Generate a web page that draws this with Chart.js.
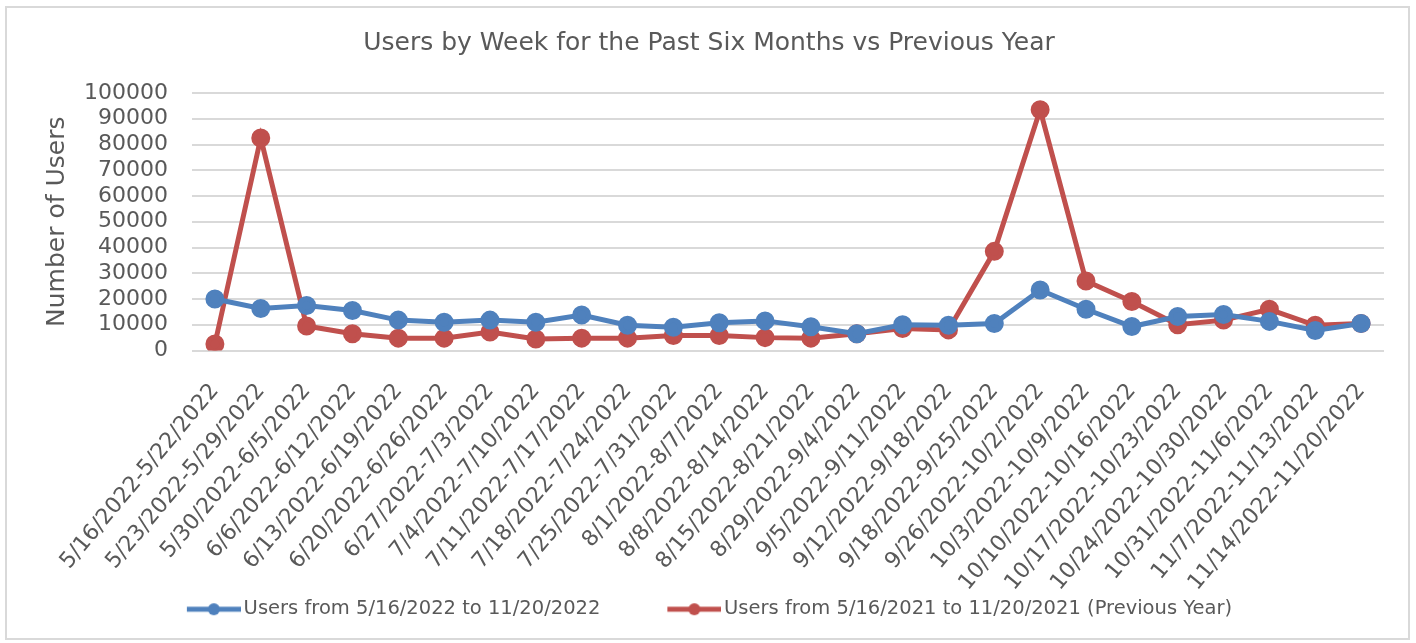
<!DOCTYPE html>
<html>
<head>
<meta charset="utf-8">
<script src="https://cdn.jsdelivr.net/npm/chart.js@4.4.0/dist/chart.umd.min.js"></script>
<style>
  body { margin: 0; background: #fff; }
  #wrap { position: relative; width: 1416px; height: 643px; }
  #frame {
    position: absolute; left: 5px; top: 6px; width: 1401px; height: 630px;
    border: 2px solid #d9d9d9;
  }
  #chart { position: absolute; left: 0; top: 0; }
</style>
</head>
<body>
<div id="wrap">
  <div id="frame"></div>
  <canvas id="chart" width="1416" height="643"></canvas>
</div>
<script>
// week ranges on the x axis
const weeks = [
  "5/16/2022-5/22/2022", "5/23/2022-5/29/2022", "5/30/2022-6/5/2022",
  "6/6/2022-6/12/2022", "6/13/2022-6/19/2022", "6/20/2022-6/26/2022",
  "6/27/2022-7/3/2022", "7/4/2022-7/10/2022", "7/11/2022-7/17/2022",
  "7/18/2022-7/24/2022", "7/25/2022-7/31/2022", "8/1/2022-8/7/2022",
  "8/8/2022-8/14/2022", "8/15/2022-8/21/2022", "8/29/2022-9/4/2022",
  "9/5/2022-9/11/2022", "9/12/2022-9/18/2022", "9/18/2022-9/25/2022",
  "9/26/2022-10/2/2022", "10/3/2022-10/9/2022", "10/10/2022-10/16/2022",
  "10/17/2022-10/23/2022", "10/24/2022-10/30/2022", "10/31/2022-11/6/2022",
  "11/7/2022-11/13/2022", "11/14/2022-11/20/2022"
];

// users this year (2022)
const users2022 = [
  20000, 16300, 17500, 15500, 11800, 11000, 11800, 11000, 13800, 9800,
  9000, 10800, 11500, 9200, 6500, 10000, 9800, 10500, 23500, 16000,
  9300, 13200, 14000, 11300, 7800, 10500
];

// users previous year (2021)
const users2021 = [
  2500, 82500, 9500, 6500, 4800, 4800, 7200, 4500, 4800, 4800,
  5800, 5800, 5000, 4800, 6500, 8500, 8000, 38500, 93500, 27000,
  19000, 10000, 11800, 16000, 9800, 10500
];

const seriesNames = [
  "Users from 5/16/2022 to 11/20/2022",
  "Users from 5/16/2021 to 11/20/2021 (Previous Year)"
];

const BLUE = "#4f81bd";
const RED = "#c0504d";
const GREY = "#595959";
const FONT = "'DejaVu Sans', sans-serif";

// legend marker: a short thick line with a dot in the middle, like excel.
// the canvas is wider than the legend box so the line runs close to the text
function legendMarker(color) {
  const c = document.createElement("canvas");
  c.width = 62;
  c.height = 16;
  const g = c.getContext("2d");
  g.strokeStyle = color;
  g.lineWidth = 5;
  g.beginPath();
  g.moveTo(8, 8);
  g.lineTo(62, 8);
  g.stroke();
  g.fillStyle = color;
  g.beginPath();
  g.arc(35, 8, 6, 0, Math.PI * 2);
  g.fill();
  return c;
}

const markers = [legendMarker(BLUE), legendMarker(RED)];
// extra room after the first legend entry (excel leaves a wide gap)
const legendGap = ["          ", ""];

new Chart(document.getElementById("chart"), {
  type: "line",
  data: {
    labels: weeks,
    datasets: [
      {
        label: seriesNames[0],
        data: users2022,
        borderColor: BLUE,
        backgroundColor: BLUE,
        borderWidth: 5,
        pointRadius: 7,
        pointHoverRadius: 7,
        tension: 0,
      },
      {
        label: seriesNames[1],
        data: users2021,
        borderColor: RED,
        backgroundColor: RED,
        borderWidth: 5,
        pointRadius: 7,
        pointHoverRadius: 7,
        tension: 0,
      },
    ],
  },
  options: {
    responsive: false,
    animation: false,
    layout: { padding: { top: 22, left: 18, right: 16, bottom: 14 } },
    plugins: {
      title: {
        display: true,
        text: "Users by Week for the Past Six Months vs Previous Year",
        color: GREY,
        font: { family: FONT, size: 25, weight: "normal" },
        padding: { top: 6, bottom: 35 },
      },
      legend: {
        position: "bottom",
        labels: {
          color: GREY,
          font: { family: FONT, size: 19.5 },
          usePointStyle: true,
          pointStyleWidth: 48,
          padding: 4,
          generateLabels: (chart) =>
            chart.data.datasets.map((ds, i) => ({
              text: ds.label + legendGap[i],
              fontColor: GREY,
              pointStyle: markers[i],
              datasetIndex: i,
              lineWidth: 0,
            })),
        },
      },
      tooltip: { enabled: false },
    },
    scales: {
      x: {
        offset: true,
        grid: { display: false },
        border: { display: false },
        ticks: {
          color: GREY,
          font: { family: FONT, size: 22 },
          minRotation: 50,
          maxRotation: 50,
          autoSkip: false,
          padding: 20,
        },
        // the rotated labels are allowed to reach down to the legend
        afterFit: (axis) => {
          axis.height = 245;
        },
      },
      y: {
        min: 0,
        max: 100000,
        grid: { color: "#d9d9d9", lineWidth: 2, drawTicks: false },
        border: { display: false },
        ticks: {
          stepSize: 10000,
          autoSkip: false,
          color: GREY,
          font: { family: FONT, size: 22 },
          padding: 24,
          callback: (v) => String(v),
        },
        title: {
          display: true,
          text: "Number of Users",
          color: GREY,
          font: { family: FONT, size: 25 },
          padding: { top: 24, bottom: -12 },
        },
      },
      // empty strip on the right so the plot ends where excel's does
      yRight: {
        position: "right",
        grid: { display: false },
        border: { display: false },
        ticks: { display: false },
        afterFit: (axis) => {
          axis.width = 16;
        },
      },
    },
  },
});
</script>
</body>
</html>
